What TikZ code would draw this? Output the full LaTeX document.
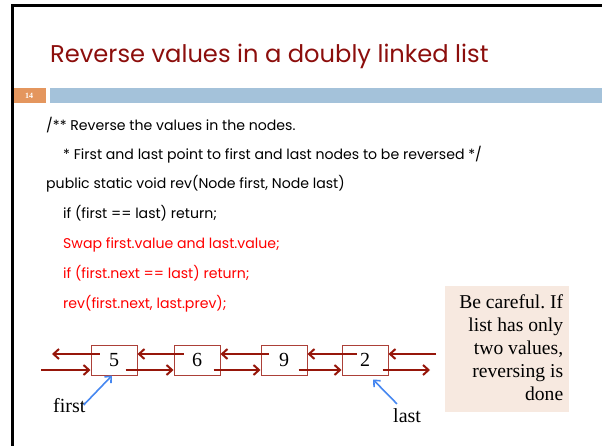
\documentclass[tikz,border=0pt]{standalone}
\usepackage{fontspec}
\setmainfont{Poppins}
\newfontfamily\notefont{Liberation Serif}
\usetikzlibrary{arrows.meta,positioning}
\frenchspacing

\definecolor{titlered}{RGB}{140,14,12}
\definecolor{barblue}{RGB}{164,194,218}
\definecolor{numorange}{RGB}{228,150,94}
\definecolor{cellred}{RGB}{172,64,56}
\definecolor{linkred}{RGB}{150,22,10}
\definecolor{ptrblue}{RGB}{70,135,240}
\definecolor{notefill}{RGB}{247,233,224}

\begin{document}
\begin{tikzpicture}[x=1pt, y=-1pt,
  code/.style={anchor=base west, inner sep=0pt,
    font=\fontsize{14.1}{17}\selectfont},
  hot/.style={code, text=red},
  cell/.style={rectangle, draw=cellred, line width=1pt,
    minimum width=46pt, minimum height=30pt, inner sep=0pt,
    font=\notefont\fontsize{20}{20}\selectfont},
  link/.style={draw=linkred, line width=2pt,
    -{Straight Barb[length=5.5pt, width=10pt]}},
  ptr/.style={draw=ptrblue, line width=1.6pt,
    -{Straight Barb[length=5pt, width=9pt]}},
  lbl/.style={anchor=base west, inner sep=0pt,
    font=\notefont\fontsize{20}{20}\selectfont}
]
  \useasboundingbox (0,0) rectangle (602,446);

  % slide frame and header
  \draw[line width=3pt] (12.5,446) -- (12.5,6) -- (602,6);
  \node[anchor=base west, inner sep=0pt, text=titlered,
    font=\fontsize{24.2}{28}\selectfont] (title) at (50,63)
    {Reverse values in a doubly linked list};
  \fill[numorange] (14,88) rectangle (46,103);
  \fill[barblue] (50,88) rectangle (602,103);
  \node[text=white, font=\notefont\bfseries\fontsize{8}{8}\selectfont]
    (slideno) at (29,95.5) {14};

  % code
  \node[code] (c1) at (46,131) {/** Reverse the values in the nodes.};
  \node[code] (c2) at (63,160)
    {* First and last point to first and last nodes to be reversed */};
  \node[code] (c3) at (46,189) {public static void rev(Node first, Node last)};
  \node[code] (c4) at (63,219) {if (first == last) return;};
  \node[hot]  (c5) at (63,249) {Swap first.value and last.value;};
  \node[hot]  (c6) at (63,278) {if (first.next == last) return;};
  \node[hot]  (c7) at (63,308) {rev(first.next, last.prev);};

  % the list
  \node[cell] (n1) at (114,360) {5};
  \node[cell] (n2) at (197,360) {6};
  \node[cell] (n3) at (284,360) {9};
  \node[cell] (n4) at (365,360) {2};
  \coordinate (lend) at (52,354);
  \coordinate (lin) at (41,370);
  \coordinate (rin) at (436,354);
  \coordinate (rend) at (430,370);

  \draw[link] ([xshift=9pt, yshift=6pt]n1.west) -- (lend);
  \draw[link] ([xshift=10pt, yshift=6pt]n2.west) -- ([yshift=6pt]n1.east);
  \draw[link] ([xshift=8pt, yshift=6pt]n3.west) -- ([yshift=6pt]n2.east);
  \draw[link] ([xshift=15pt, yshift=6pt]n4.west) -- ([yshift=6pt]n3.east);
  \draw[link] (rin) -- ([yshift=6pt]n4.east);

  \draw[link] (lin) -- ([yshift=-10pt]n1.west);
  \draw[link] ([xshift=-12pt, yshift=-10pt]n1.east) -- ([yshift=-10pt]n2.west);
  \draw[link] ([xshift=-7pt, yshift=-10pt]n2.east) -- ([yshift=-10pt]n3.west);
  \draw[link] ([xshift=-9pt, yshift=-10pt]n3.east) -- ([yshift=-10pt]n4.west);
  \draw[link] ([xshift=-6pt, yshift=-10pt]n4.east) -- (rend);

  \node[lbl] (first) at (53,412) {first};
  \node[lbl] (last) at (393,422) {last};
  \draw[ptr] ([xshift=-2pt]first.east) -- ([xshift=-2pt]n1.south);
  \draw[ptr] ([xshift=4pt, yshift=4pt]last.north west) -- ([xshift=8pt, yshift=-4pt]n4.south);

  % note
  \node[fill=notefill, minimum width=124pt, minimum height=126pt,
    anchor=north west, inner sep=0pt] (note) at (445,286) {};
  \node[anchor=north east, align=right, inner sep=0pt,
    font=\notefont\fontsize{19.6}{23}\selectfont] (notetext)
    at ([xshift=-6pt, yshift=-8pt]note.north east)
    {Be careful. If\\list has only\\two values,\\reversing is\\done};
\end{tikzpicture}
\end{document}
